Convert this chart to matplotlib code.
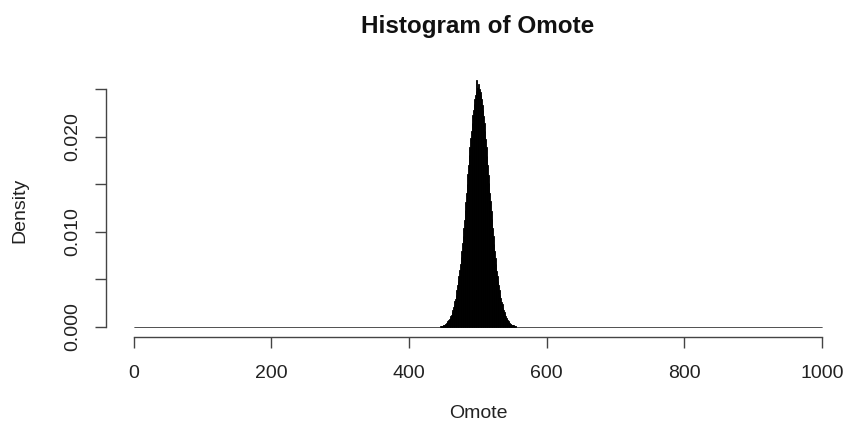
import numpy as np
import matplotlib.pyplot as plt

plt.rcParams['font.family'] = ['Liberation Sans', 'DejaVu Sans']

# density per unit-width bin of Omote counts, first bin starts at 441
first_bin = 441
density = [
    0.00001, 0.00002, 0.00003, 0.00004, 0.00006, 0.00008, 0.00010, 0.00012, 0.00016,
    0.00020, 0.00025, 0.00030, 0.00036, 0.00044, 0.00051, 0.00060, 0.00071,
    0.00083, 0.00097, 0.00112, 0.00131, 0.00154, 0.00175, 0.00206, 0.00235,
    0.00268, 0.00299, 0.00338, 0.00389, 0.00436, 0.00488, 0.00537, 0.00598,
    0.00659, 0.00731, 0.00796, 0.00878, 0.00951, 0.01043, 0.01129, 0.01224,
    0.01317, 0.01412, 0.01506, 0.01603, 0.01698, 0.01802, 0.01889, 0.01983,
    0.02061, 0.02138, 0.02224, 0.02279, 0.02343, 0.02396, 0.02437, 0.02475,
    0.02596, 0.02512, 0.02522, 0.02548, 0.02497, 0.02468, 0.02441, 0.02398,
    0.02336, 0.02284, 0.02219, 0.02142, 0.02058, 0.01979, 0.01893, 0.01797,
    0.01704, 0.01598, 0.01511, 0.01408, 0.01322, 0.01218, 0.01131, 0.01040,
    0.00957, 0.00875, 0.00801, 0.00726, 0.00662, 0.00590, 0.00539, 0.00484,
    0.00438, 0.00384, 0.00341, 0.00302, 0.00266, 0.00238, 0.00204, 0.00178,
    0.00153, 0.00134, 0.00111, 0.00098, 0.00083, 0.00071, 0.00059, 0.00051,
    0.00041, 0.00036, 0.00029, 0.00024, 0.00020, 0.00016, 0.00013, 0.00011,
    0.00009, 0.00007, 0.00005, 0.00004, 0.00003, 0.00002, 0.00001,
]
x_ticks = [0, 200, 400, 600, 800, 1000]
y_ticks = [0.000, 0.005, 0.010, 0.015, 0.020, 0.025]
y_labels = ['0.000', '', '0.010', '', '0.020', '']

# all 1000 bins, empty ones included (they draw the flat line at zero)
breaks = np.arange(0, 1001)
heights = np.zeros(len(breaks) - 1)
heights[first_bin:first_bin + len(density)] = density

W, H = 846, 425
fig = plt.figure(figsize=(W / 100, H / 100), dpi=100)
ymax = 0.026
px_x = 0.6885       # pixels per unit on x
px_y = 9520         # pixels per unit on y
left = 133.5 - 0.04 * 1000 * px_x
bottom = 327 + 0.04 * ymax * px_y
top = 327 - 1.04 * ymax * px_y
ax = fig.add_axes([left / W, (H - bottom) / H, 1.08 * 1000 * px_x / W, (bottom - top) / H])

ax.bar(breaks[:-1], heights, width=1, align='edge', color='black',
       edgecolor='black', linewidth=0.6)

ax.set_xlim(-40, 1040)
ax.set_ylim(-0.04 * ymax, 1.04 * ymax)
for s in ['top', 'right']:
    ax.spines[s].set_visible(False)
ax.spines['bottom'].set_bounds(0, 1000)
ax.spines['left'].set_bounds(0, 0.025)
for s in ['bottom', 'left']:
    ax.spines[s].set_color('#444444')
    ax.spines[s].set_linewidth(1.0)

ax.set_xticks(x_ticks)
ax.set_xticklabels([str(v) for v in x_ticks])
ax.set_yticks(y_ticks)
ax.set_yticklabels(y_labels, rotation=90, va='center')
ax.tick_params(axis='both', length=8, width=1.0, color='#444444',
               labelsize=14, labelcolor='#222222')
ax.tick_params(axis='x', pad=12)
ax.tick_params(axis='y', pad=10)

fig.text(478 / W, 1 - 26 / H, 'Histogram of Omote', ha='center', va='center',
         fontsize=17.5, fontweight='bold', color='#111111')
fig.text(478 / W, 1 - 413 / H, 'Omote', ha='center', va='center',
         fontsize=14, color='#222222')
fig.text(20 / W, 1 - 210 / H, 'Density', ha='center', va='center',
         rotation=90, fontsize=14, color='#222222')

fig.savefig('out.png', dpi=100)
